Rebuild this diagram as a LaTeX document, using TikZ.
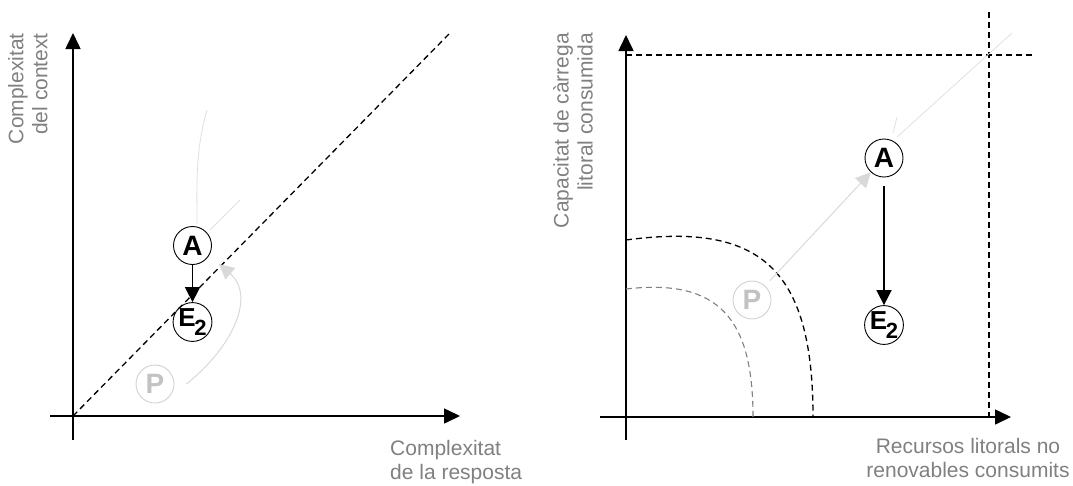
\documentclass[tikz,border=0pt]{standalone}
\usepackage{fontspec}
\setmainfont{Liberation Sans}
\usetikzlibrary{arrows.meta}
\begin{document}
\begin{tikzpicture}[x=1pt,y=-1pt,
  axis/.style={line width=1.6pt, -{Triangle[length=16pt,width=15pt]}},
  dsh/.style={dash pattern=on 6pt off 4pt, line width=1.3pt},
  state/.style={circle, draw, line width=0.9pt, minimum size=38pt, inner sep=0pt, font=\fontsize{28}{28}\selectfont\bfseries},
  ghost/.style={state, draw=black!18, text=black!24},
  lbl/.style={text=black!50, font=\fontsize{21}{24}\selectfont, inner sep=0pt},
  faint/.style={draw=black!12, line width=0.8pt},
  garrow/.style={draw=black!15, line width=1pt, -{Triangle[length=15pt,width=15pt,fill=black!15]}},
  karrow/.style={line width=1.4pt, -{Triangle[length=15pt,width=15pt]}}
]
\useasboundingbox (0,0) rectangle (1073,485);
\newcommand{\etwo}{{\fontsize{26}{26}\selectfont E\kern-1.5pt\raisebox{-9pt}{\fontsize{22}{22}\selectfont 2}}}
% ---------- left panel ----------
\coordinate (oL) at (73,416);
\coordinate (xL0) at (50,416);
\coordinate (xL1) at (460,416);
\coordinate (yL0) at (73,440);
\coordinate (yL1) at (73,33);
\coordinate (dL) at (450,33);
\draw[axis] (xL0) -- (xL1);
\draw[axis] (yL0) -- (yL1);
\draw[dsh] (oL) -- (dL);
\node[state] (aL) at (192.5,245.5) {A};
\node[state] (e2L) at (192.5,322) {\etwo};
\node[ghost] (pL) at (155,384) {P};
\draw[karrow] (aL) -- (e2L);
\coordinate (tipL) at (219,264);
\draw[garrow] ([xshift=12pt]pL.east) .. controls (235,345) and (255,295) .. (tipL);
\coordinate (fL0) at (207,110);
\coordinate (fL1) at (197,224);
\draw[faint] (fL0) .. controls (195,150) and (197,190) .. (fL1);
\coordinate (gL0) at (240,200);
\coordinate (gL1) at (210,230);
\draw[faint] (gL0) -- (gL1);
\node[lbl, rotate=90, anchor=north east, align=right] (ylL) at (8,33) {Complexitat\\del context};
\node[lbl, anchor=north west, align=left] (xlL) at (390,440) {Complexitat\\de la resposta};
% ---------- right panel ----------
\coordinate (xR0) at (600,417);
\coordinate (xR1) at (1011,417);
\coordinate (yR0) at (626,440);
\coordinate (yR1) at (626,35);
\coordinate (hR0) at (626,55);
\coordinate (hR1) at (1033,55);
\coordinate (vR0) at (989,12);
\coordinate (vR1) at (989,417);
\draw[axis] (xR0) -- (xR1);
\draw[axis] (yR0) -- (yR1);
\draw[dsh] (hR0) -- (hR1);
\draw[dsh] (vR0) -- (vR1);
\coordinate (c1a) at (626,240);
\coordinate (c1b) at (813,417);
\draw[dsh] (c1a) .. controls (760,222) and (813,268) .. (c1b);
\coordinate (c2a) at (626,289);
\coordinate (c2b) at (753,417);
\draw[dsh, draw=black!50, line width=1.1pt] (c2a) .. controls (720,278) and (753,320) .. (c2b);
\node[state] (aR) at (884,158) {A};
\node[state] (e2R) at (884,325) {\etwo};
\node[ghost] (pR) at (752,300) {P};
\draw[karrow, shorten <=9pt] (aR) -- (e2R);
\draw[garrow, shorten <=7pt] (pR) -- (aR);
\coordinate (fR0) at (897,137);
\coordinate (fR1) at (1012,33);
\draw[faint] (fR0) -- (fR1);
\coordinate (gR0) at (897,117);
\coordinate (gR1) at (893,133);
\draw[faint] (gR0) -- (gR1);
\node[lbl, rotate=90, anchor=north east, align=right] (ylR) at (553,33) {Capacitat de càrrega\\litoral consumida};
\node[lbl, anchor=north, align=center] (xlR) at (968,438) {Recursos litorals no\\renovables consumits};
\end{tikzpicture}
\end{document}
